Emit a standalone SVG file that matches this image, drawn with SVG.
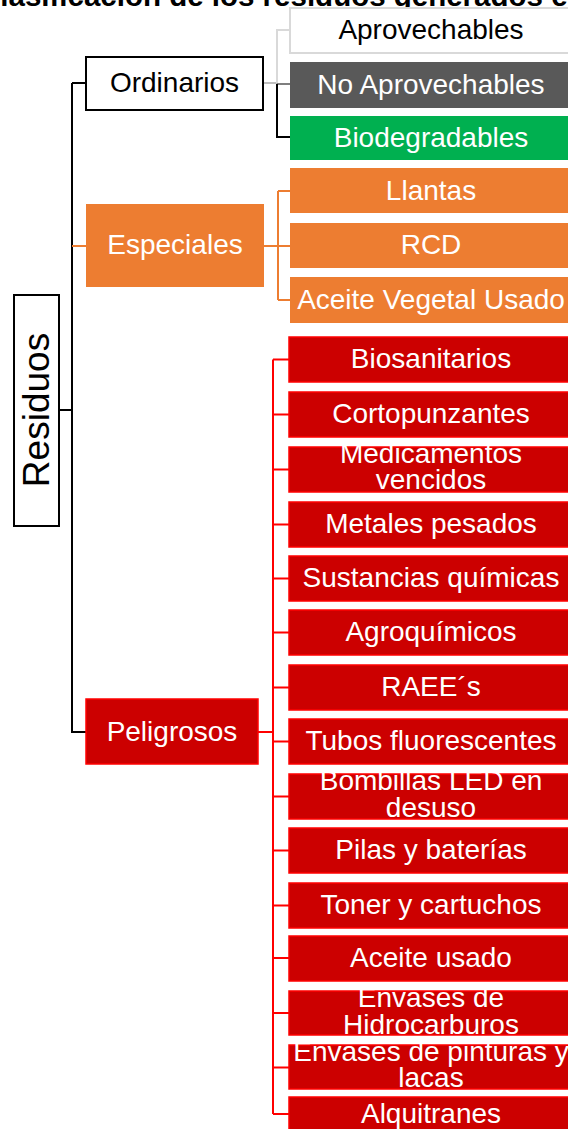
<svg xmlns="http://www.w3.org/2000/svg" width="568" height="1129" viewBox="0 0 568 1129">
<style>
text{font-family:"Liberation Sans",Arial,sans-serif;font-size:28px;text-anchor:middle;fill:#fff}
.title{font-weight:bold;fill:#000;text-anchor:start;font-size:29.5px}
.dark{fill:#000}
.red rect{fill:#CC0000;stroke:#FF0000;stroke-width:1.5}
.org rect{fill:#ED7D31}
.con path{fill:none;stroke-width:2}
.k{stroke:#000}.o{stroke:#ED7D31}.r{stroke:#FF0000}
</style>
<text class="title" x="-21" y="6">Clasificación de los residuos generados en</text>
<g id="connectors" class="con">
<path class="k" d="M59,410H72M72,83V733M72,83H86M72,732H86"/>
<path class="o" d="M72,246H86"/>
<path stroke="#BFBFBF" d="M263,83H277"/>
<path stroke="#D9D9D9" d="M277,83V30H290"/>
<path stroke="#7F7F7F" d="M277,84H290"/>
<path class="k" d="M277,84V137H290"/>
<path class="o" d="M264,246H278M278,191V300M278,191H290M278,246H290M278,300H290"/>
<path class="r" d="M258,732H273M273,359.5V1114M273,359.5H289M273,414.5H289M273,469.5H289M273,524.5H289M273,578.5H289M273,632.5H289M273,687.5H289M273,741.5H289M273,796.5H289M273,850.5H289M273,905.5H289M273,958H289M273,1013H289M273,1067.5H289M273,1114H289"/>
</g>
<g id="residuos"><rect x="14" y="295" width="45" height="231" fill="#fff" stroke="#000" stroke-width="2"/><text class="dark" style="font-size:37px" transform="translate(49,410) rotate(-90)">Residuos</text></g>
<g id="ordinarios"><rect x="86" y="57" width="177" height="53" fill="#fff" stroke="#000" stroke-width="2"/><text class="dark" x="174.5" y="91.5">Ordinarios</text></g>
<g id="especiales" class="org"><rect x="86" y="204" width="178" height="83"/><text x="175" y="254">Especiales</text></g>
<g id="peligrosos" class="red"><rect x="86" y="699" width="172" height="65"/><text x="172" y="740.5">Peligrosos</text></g>
<g id="aprovechables"><rect x="290" y="8" width="282" height="45" fill="#fff" stroke="#D9D9D9" stroke-width="2"/><text class="dark" x="431" y="38.5">Aprovechables</text></g>
<g id="noaprovechables"><rect x="290" y="62" width="282" height="46" fill="#595959"/><text x="431" y="93.5">No Aprovechables</text></g>
<g id="biodegradables"><rect x="290" y="116" width="282" height="44" fill="#00B050"/><text x="431" y="146.5">Biodegradables</text></g>
<g id="llantas" class="org"><rect x="290" y="168" width="282" height="45"/><text x="431" y="199.5">Llantas</text></g>
<g id="rcd" class="org"><rect x="290" y="223" width="282" height="45"/><text x="431" y="254">RCD</text></g>
<g id="aceitevegetal" class="org"><rect x="290" y="277" width="282" height="46"/><text x="431" y="308.5">Aceite Vegetal Usado</text></g>
<g id="biosanitarios" class="red"><rect x="289" y="337" width="283" height="45"/><text x="431" y="368">Biosanitarios</text></g>
<g id="cortopunzantes" class="red"><rect x="289" y="392" width="283" height="45"/><text x="431" y="423">Cortopunzantes</text></g>
<g id="medicamentos" class="red"><rect x="289" y="447" width="283" height="45"/><text x="431" y="462.5">Medicamentos</text><text x="431" y="489.2">vencidos</text></g>
<g id="metales" class="red"><rect x="289" y="502" width="283" height="45"/><text x="431" y="533">Metales pesados</text></g>
<g id="sustancias" class="red"><rect x="289" y="556" width="283" height="45"/><text x="431" y="587">Sustancias químicas</text></g>
<g id="agroquimicos" class="red"><rect x="289" y="610" width="283" height="45"/><text x="431" y="641">Agroquímicos</text></g>
<g id="raees" class="red"><rect x="289" y="665" width="283" height="45"/><text x="431" y="696">RAEE´s</text></g>
<g id="tubos" class="red"><rect x="289" y="719" width="283" height="45"/><text x="431" y="750">Tubos fluorescentes</text></g>
<g id="bombillas" class="red"><rect x="289" y="774" width="283" height="45"/><text x="431" y="790">Bombillas LED en</text><text x="431" y="816.7">desuso</text></g>
<g id="pilas" class="red"><rect x="289" y="828" width="283" height="45"/><text x="431" y="859">Pilas y baterías</text></g>
<g id="toner" class="red"><rect x="289" y="883" width="283" height="45"/><text x="431" y="914">Toner y cartuchos</text></g>
<g id="aceiteusado" class="red"><rect x="289" y="936" width="283" height="45"/><text x="431" y="967">Aceite usado</text></g>
<g id="envaseshidro" class="red"><rect x="289" y="991" width="283" height="44"/><text x="431" y="1007">Envases de</text><text x="431" y="1033.5">Hidrocarburos</text></g>
<g id="envasespint" class="red"><rect x="289" y="1045" width="283" height="44"/><text x="431" y="1060.5">Envases de pinturas y</text><text x="431" y="1087">lacas</text></g>
<g id="alquitranes" class="red"><rect x="289" y="1097" width="283" height="40"/><text x="431" y="1122.5">Alquitranes</text></g>
</svg>
